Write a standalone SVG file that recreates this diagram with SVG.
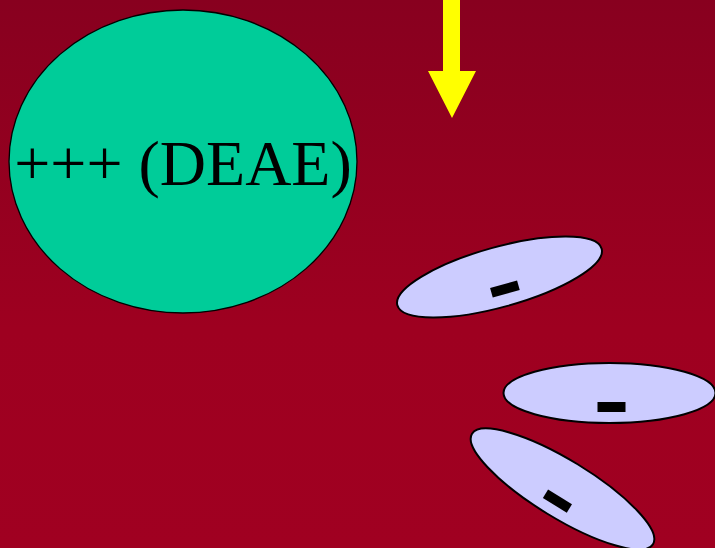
<svg xmlns="http://www.w3.org/2000/svg" width="715" height="548" viewBox="0 0 715 548">
  <defs>
    <linearGradient id="bg" x1="0" y1="0" x2="0" y2="1">
      <stop offset="0" stop-color="#88001f"/>
      <stop offset="0.6" stop-color="#9e0020"/>
      <stop offset="1" stop-color="#a00021"/>
    </linearGradient>
    <style>
      .bead { fill: #00cc99; stroke: #000; stroke-width: 1.3; }
      .label { font-family: "Liberation Serif", "Times New Roman", serif; font-size: 64px; fill: #000; }
      .protein { fill: #ccccff; stroke: #000; stroke-width: 2; }
      .charge { fill: #000; }
      .flow { fill: #ffff00; }
    </style>
  </defs>

  <rect x="0" y="0" width="715" height="548" fill="url(#bg)"/>

  <!-- positively charged exchanger bead -->
  <g id="deae">
    <ellipse class="bead" cx="183" cy="161.5" rx="174" ry="151.5"/>
    <text class="label" x="183" y="185" text-anchor="middle">+++ (DEAE)</text>
  </g>

  <!-- flow direction -->
  <g id="flow-arrow">
    <polygon class="flow" points="443,0 460,0 460,71 476,71 452,118 428,71 443,71"/>
  </g>

  <!-- negatively charged proteins -->
  <g id="protein-1" transform="translate(499.5,277) rotate(-15.5)">
    <ellipse class="protein" cx="0" cy="0" rx="106" ry="30"/>
    <rect class="charge" x="-12" y="8" width="28" height="10"/>
  </g>
  <g id="protein-2" transform="translate(609.5,393)">
    <ellipse class="protein" cx="0" cy="0" rx="106" ry="30"/>
    <rect class="charge" x="-12" y="9" width="28" height="10"/>
  </g>
  <g id="protein-3" transform="translate(562.5,489) rotate(31.4)">
    <ellipse class="protein" cx="0" cy="0" rx="106" ry="29"/>
    <rect class="charge" x="-12" y="8" width="28" height="10"/>
  </g>

  <g id="connectors"/>
</svg>
